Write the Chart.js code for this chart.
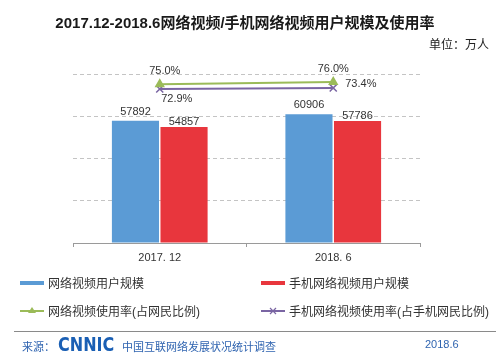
<!DOCTYPE html>
<html><head><meta charset="utf-8">
<script src="https://cdn.jsdelivr.net/npm/chart.js@4/dist/chart.umd.min.js"></script>
<style>
html,body{margin:0;padding:0;background:#fff;}
#wrap{position:relative;width:502px;height:356px;overflow:hidden;font-family:"Liberation Sans","Noto Sans CJK SC",sans-serif;color:#222;}
#c{position:absolute;left:0;top:0;}
.t{position:absolute;white-space:nowrap;}
#title{left:0;width:490px;top:11px;text-align:center;font-weight:bold;font-size:15px;color:#1a1a1a;}
#unit{right:13px;top:35px;font-size:12px;color:#222;}
.lg{position:absolute;font-size:12px;color:#333;white-space:nowrap;}
#hr{position:absolute;left:14px;width:482px;top:331px;height:1px;background:#8a8a8a;}
.ft{position:absolute;top:338px;font-size:11px;color:#2f64b0;white-space:nowrap;}
#logo{position:absolute;left:58px;top:335px;font-size:16px;line-height:16px;font-weight:bold;color:#1a5fb4;font-family:"DejaVu Sans","Liberation Sans",sans-serif;transform:scaleY(1.2);transform-origin:top left;}
</style></head>
<body><div id="wrap">
<canvas id="c" width="502" height="356"></canvas>
<div class="t" id="title">2017.12-2018.6网络视频/手机网络视频用户规模及使用率</div>
<div class="t" id="unit">单位：万人</div>
<div id="legend"></div>
<div id="hr"></div>
<div class="ft" style="left:22px;">来源：</div>
<div id="logo">CNNIC</div>
<div class="ft" style="left:122px;">中国互联网络发展状况统计调查</div>
<div class="ft" style="left:425px;">2018.6</div>
</div>
<script>
const categories = ["2017. 12", "2018. 6"];
const videoUsers = [57892, 60906];
const mobileVideoUsers = [54857, 57786];
const videoRate = [75.0, 76.0];
const mobileVideoRate = [72.9, 73.4];
const seriesNames = ["网络视频用户规模", "手机网络视频用户规模", "网络视频使用率(占网民比例)", "手机网络视频使用率(占手机网民比例)"];

const BLUE = "#5b9bd5", RED = "#e8363d", GREEN = "#9bbb59", PURPLE = "#7a65a3";
const FONT = '"Liberation Sans","Noto Sans CJK SC",sans-serif';

// legend (HTML)
const lg = document.getElementById('legend');
const legendItems = [
  {name: seriesNames[0], x: 20, y: 283, type: 'bar', color: BLUE},
  {name: seriesNames[1], x: 261, y: 283, type: 'bar', color: RED},
  {name: seriesNames[2], x: 20, y: 311, type: 'tri', color: GREEN},
  {name: seriesNames[3], x: 261, y: 311, type: 'x', color: PURPLE}
];
legendItems.forEach(it => {
  const m = document.createElement('canvas');
  m.width = 26; m.height = 12;
  m.style.position = 'absolute'; m.style.left = it.x + 'px'; m.style.top = (it.y - 6) + 'px';
  const g = m.getContext('2d');
  if (it.type === 'bar') { g.fillStyle = it.color; g.fillRect(0, 4, 24, 4); }
  else {
    g.strokeStyle = it.color; g.lineWidth = 2; g.beginPath(); g.moveTo(0, 6); g.lineTo(24, 6); g.stroke();
    if (it.type === 'tri') { g.fillStyle = it.color; g.beginPath(); g.moveTo(12, 2); g.lineTo(16, 8); g.lineTo(8, 8); g.closePath(); g.fill(); }
    else { g.lineWidth = 1.2; g.beginPath(); g.moveTo(9, 3); g.lineTo(15, 9); g.moveTo(15, 3); g.lineTo(9, 9); g.stroke(); }
  }
  lg.appendChild(m);
  const d = document.createElement('div');
  d.className = 'lg'; d.textContent = it.name;
  d.style.left = (it.x + 28) + 'px'; d.style.top = (it.y - 9) + 'px';
  lg.appendChild(d);
});

// value labels plugin
const labelPlugin = {
  id: 'vlabels',
  afterDatasetsDraw(chart) {
    const ctx = chart.ctx;
    ctx.save();
    ctx.font = '11px ' + FONT;
    ctx.fillStyle = '#333';
    ctx.textBaseline = 'middle';
    chart.data.datasets.forEach((ds, di) => {
      const meta = chart.getDatasetMeta(di);
      meta.data.forEach((el, i) => {
        const v = ds.data[i];
        let txt, x = el.x, y = el.y, align = 'center';
        if (ds.type === 'line') {
          txt = v.toFixed(1) + '%';
          if (di === 2) { y -= 13; x += (i === 0 ? 5 : 0); }
          else if (i === 0) { y += 10; x += 17; }
          else { x += 12; y -= 4; align = 'left'; }
        } else {
          txt = String(v);
          y -= (di === 0 ? 9 : 5);
        }
        ctx.textAlign = align;
        ctx.fillText(txt, x, y);
      });
    });
    ctx.restore();
  }
};

new Chart(document.getElementById('c'), {
  data: {
    labels: categories,
    datasets: [
      {type: 'bar', label: seriesNames[0], data: videoUsers, backgroundColor: BLUE, yAxisID: 'y', order: 2, barPercentage: 0.97, categoryPercentage: 0.56},
      {type: 'bar', label: seriesNames[1], data: mobileVideoUsers, backgroundColor: RED, yAxisID: 'y', order: 2, barPercentage: 0.97, categoryPercentage: 0.56},
      {type: 'line', label: seriesNames[2], data: videoRate, borderColor: GREEN, backgroundColor: GREEN, borderWidth: 2, pointStyle: 'triangle', pointRadius: 4, yAxisID: 'y2', order: 1},
      {type: 'line', label: seriesNames[3], data: mobileVideoRate, borderColor: PURPLE, backgroundColor: PURPLE, borderWidth: 2, pointStyle: 'crossRot', pointRadius: 5, pointBorderWidth: 1.5, yAxisID: 'y2', order: 1}
    ]
  },
  options: {
    responsive: false,
    animation: false,
    layout: {padding: {left: 73, right: 82, top: 74, bottom: 93}},
    plugins: {legend: {display: false}, tooltip: {enabled: false}},
    scales: {
      x: {
        afterFit(s) { s.height = 20; },
        border: {display: true, color: '#9a9a9a', width: 1},
        grid: {offset: true, drawOnChartArea: false, drawTicks: true, tickLength: 4, color: '#9a9a9a'},
        ticks: {color: '#333', font: {size: 11, family: FONT}, padding: 4}
      },
      y: {
        min: 0, max: 80000,
        afterFit(s) { s.width = 0; },
        ticks: {display: false, stepSize: 20000},
        grid: {drawTicks: false, color: c => c.tick.value === 0 ? 'rgba(0,0,0,0)' : '#c4c4c4'},
        border: {display: false, dash: [4, 3]}
      },
      y2: {display: false, min: 4.2, max: 79.6}
    }
  },
  plugins: [labelPlugin]
});
</script>
</body></html>
